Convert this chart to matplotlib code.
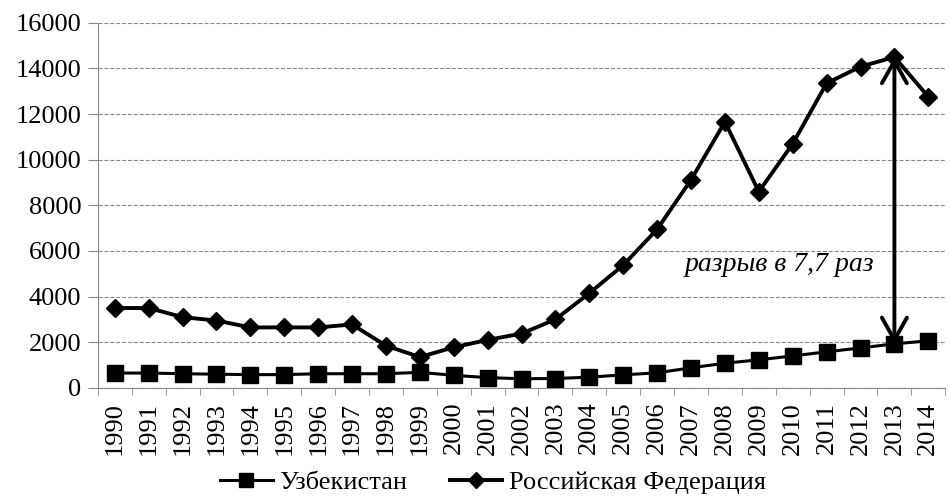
import matplotlib
matplotlib.use("Agg")
import matplotlib.pyplot as plt
import numpy as np

years = [str(y) for y in range(1990, 2015)]
uzbekistan = [650, 650, 620, 600, 580, 580, 620, 620, 620, 680, 550, 450, 400, 410,
              470, 570, 660, 880, 1080, 1230, 1400, 1580, 1750, 1930, 2060]
russia = [3500, 3500, 3100, 2950, 2650, 2650, 2650, 2780, 1850, 1350, 1780, 2100, 2380,
          3000, 4150, 5380, 6950, 9120, 11660, 8600, 10700, 13350, 14080, 14500, 12760]
yticks = [0, 2000, 4000, 6000, 8000, 10000, 12000, 14000, 16000]
label_uz = "Узбекистан"
label_ru = "Российская Федерация"
gap_text = "разрыв в 7,7 раз"

plt.rcParams['font.family'] = ['Liberation Serif', 'DejaVu Serif']

fig = plt.figure(figsize=(9.5, 4.96), dpi=100)
ax = fig.add_axes([0.103, 0.218, 0.892, 0.736])

x = np.arange(len(years))
ax.plot(x, uzbekistan, color='black', lw=2.2, marker='s', markersize=11, label=label_uz)
ax.plot(x, russia, color='black', lw=2.8, marker='D', markersize=9, label=label_ru)

ax.set_xlim(-0.5, len(years) - 0.5)
ax.set_ylim(0, 16000)
ax.set_yticks(yticks)
ax.set_yticklabels([str(v) for v in yticks], fontsize=19)
ax.set_xticks(x)
ax.set_xticklabels(years, rotation=90, fontsize=19)
ax.set_xticks(np.arange(-0.5, len(years), 1), minor=True)
ax.tick_params(axis='x', which='major', length=0, pad=10)
ax.tick_params(axis='x', which='minor', length=5, color='#888888')
ax.tick_params(axis='y', length=7, color='#888888', pad=5)

ax.grid(axis='y', linestyle='--', color='#888888', lw=0.8)
ax.set_axisbelow(True)
for s in ['top', 'right']:
    ax.spines[s].set_visible(False)
ax.spines['left'].set_color('#888888')
ax.spines['bottom'].set_color('#888888')

i13 = years.index('2013')
ax.annotate('', xy=(i13, uzbekistan[i13]), xytext=(i13, russia[i13]),
            arrowprops=dict(arrowstyle='<->,head_length=0.8,head_width=0.45',
                            mutation_scale=20, color='black', lw=2.8,
                            shrinkA=0, shrinkB=0))
ax.text(19.6, 5400, gap_text, fontsize=20, style='italic', ha='center', va='center')

fig.legend(loc='center', bbox_to_anchor=(0.519, 0.028), ncol=2, frameon=False,
           fontsize=19, handlelength=2.0, columnspacing=1.6, handletextpad=0.25,
           borderpad=0, markerscale=0.9)

fig.savefig('out.png', dpi=100)
